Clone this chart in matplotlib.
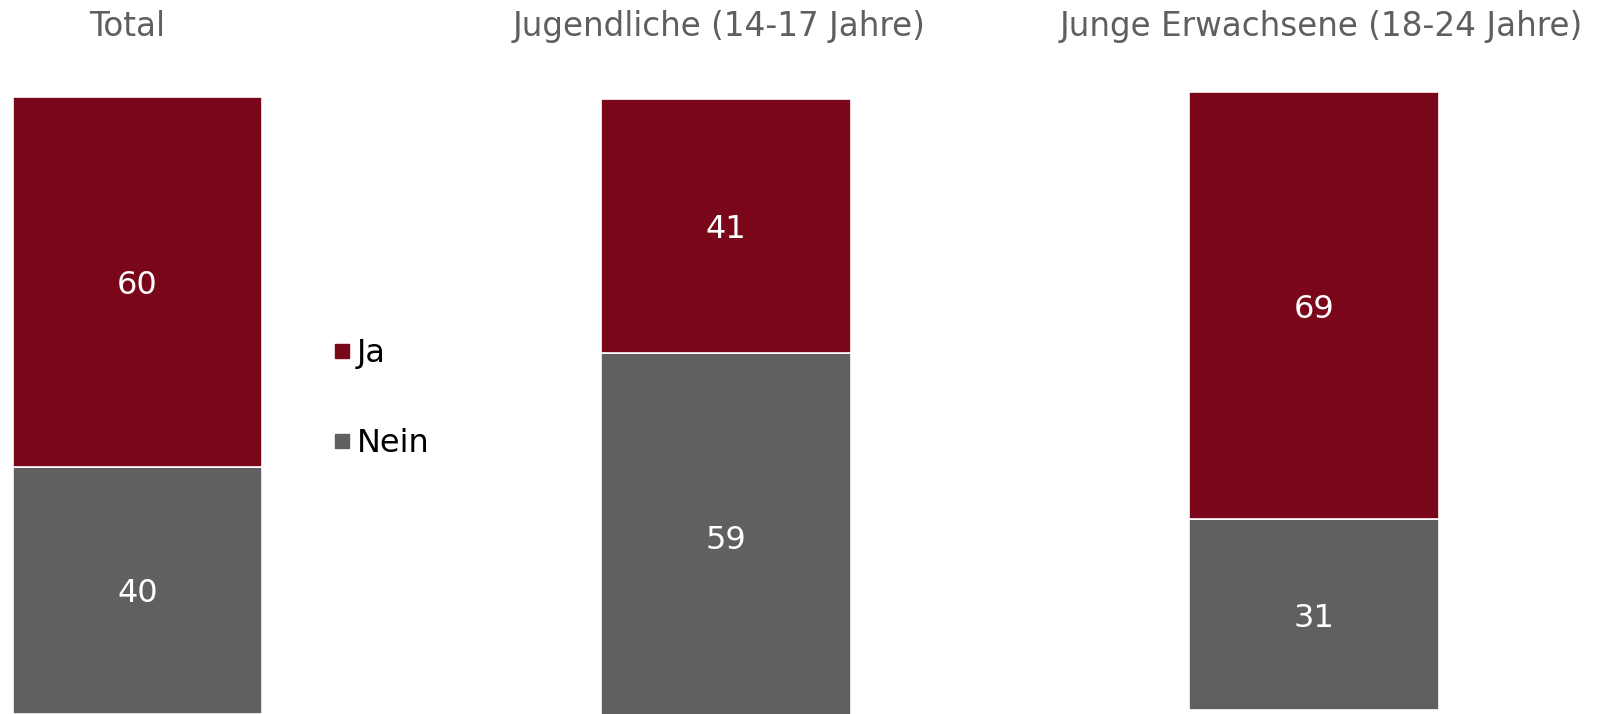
import matplotlib
matplotlib.use("Agg")
import matplotlib.pyplot as plt
from matplotlib.lines import Line2D

plt.rcParams["font.family"] = ["DejaVu Sans"]

# Survey answers in percent, one stacked bar per group
groups = ["Total", "Jugendliche (14-17 Jahre)", "Junge Erwachsene (18-24 Jahre)"]
ja = [60, 41, 69]
nein = [40, 59, 31]
series_labels = ["Ja", "Nein"]

RED = "#7A0619"
GREY = "#606060"
TITLE_GREY = "#5f5f5f"

W, H = 1599, 714
fig = plt.figure(figsize=(W / 100, H / 100), dpi=100)
fig.patch.set_facecolor("white")

# Each panel: (left px, right px, pixel of y=0, pixel of y=100), title centre x
panels = [
    (13, 262, 713.7, 97.0, 127.5),
    (601, 851, 719.7, 99.0, 719.0),
    (1189, 1439, 710.3, 92.3, 1321.0),
]

FS = 23

for (x0, x1, y0, y100, tx), name, j, n in zip(panels, groups, ja, nein):
    ax = fig.add_axes([x0 / W, (H - y0) / H, (x1 - x0) / W, (y0 - y100) / H])
    ax.bar([0], [n], width=1.0, color=GREY, edgecolor="white", linewidth=1.2)
    ax.bar([0], [j], bottom=[n], width=1.0, color=RED, edgecolor="white", linewidth=1.2)
    ax.set_xlim(-0.5, 0.5)
    ax.set_ylim(0, 100)
    ax.axis("off")
    ax.text(0, n / 2, f"{n}", ha="center", va="center_baseline", color="white", fontsize=FS)
    ax.text(0, n + j / 2, f"{j}", ha="center", va="center_baseline", color="white", fontsize=FS)
    fig.text(tx / W, (H - 36) / H, name, ha="center", va="baseline",
             color=TITLE_GREY, fontsize=FS + 0.5)

handles = [
    Line2D([], [], marker="s", linestyle="none", markersize=10,
           markerfacecolor=RED, markeredgecolor=RED),
    Line2D([], [], marker="s", linestyle="none", markersize=10,
           markerfacecolor=GREY, markeredgecolor=GREY),
]
fig.legend(handles, series_labels, loc="upper left",
           bbox_to_anchor=(333 / W, (H - 338) / H), frameon=False,
           labelspacing=1.85, handlelength=0.55, handletextpad=0.2,
           borderpad=0, borderaxespad=0, prop={"family": "DejaVu Sans", "size": FS})

fig.savefig("out.png", dpi=100, facecolor="white")
